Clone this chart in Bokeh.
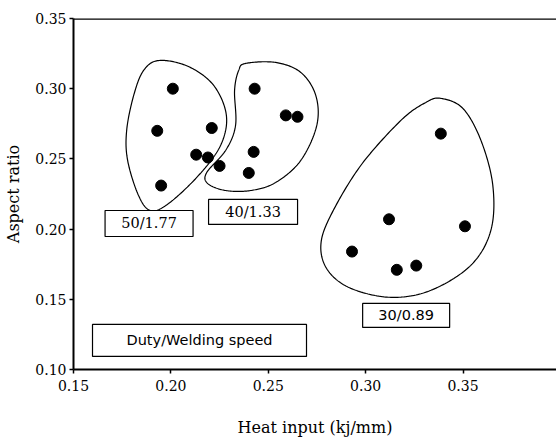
import numpy as np
from bokeh.plotting import figure
from bokeh.models import FixedTicker, Span, Label
from bokeh.embed import file_html
from bokeh.resources import INLINE

# ---- data ----
heat_50 = [0.201, 0.193, 0.221, 0.213, 0.219, 0.225, 0.195]
ratio_50 = [0.300, 0.270, 0.272, 0.253, 0.251, 0.245, 0.231]
heat_40 = [0.243, 0.2425, 0.240, 0.259, 0.265]
ratio_40 = [0.300, 0.255, 0.240, 0.281, 0.280]
heat_30 = [0.3386, 0.312, 0.351, 0.293, 0.316, 0.326]
ratio_30 = [0.268, 0.207, 0.202, 0.184, 0.171, 0.174]
group_labels = ["50/1.77", "40/1.33", "30/0.89"]
x_ticks = [0.15, 0.20, 0.25, 0.30, 0.35]
y_ticks = [0.10, 0.15, 0.20, 0.25, 0.30, 0.35]

# outline control points of the grouping curves (data units)
blob_50_x = [0.194, 0.209, 0.222, 0.2285, 0.2255, 0.2142, 0.1988, 0.1896, 0.1834, 0.1778, 0.1773, 0.1809, 0.186]
blob_50_y = [0.3201, 0.3158, 0.3023, 0.2809, 0.2596, 0.2382, 0.2182, 0.2132, 0.2239, 0.2489, 0.2703, 0.2952, 0.3130]
blob_40_x = [0.2384, 0.2538, 0.2667, 0.2744, 0.2749, 0.2667, 0.2538, 0.2410, 0.2281, 0.2189, 0.2184, 0.2281, 0.2332, 0.2327, 0.2348]
blob_40_y = [0.3180, 0.3187, 0.3116, 0.2952, 0.2738, 0.2489, 0.2332, 0.2275, 0.2275, 0.2325, 0.2403, 0.2560, 0.2738, 0.2987, 0.3130]
blob_30_x = [0.3386, 0.3499, 0.3592, 0.3653, 0.3643, 0.3540, 0.3335, 0.3130, 0.2924, 0.2806, 0.2770, 0.2821, 0.2975, 0.3181, 0.3309]
blob_30_y = [0.2931, 0.2860, 0.2632, 0.2311, 0.1991, 0.1742, 0.1564, 0.1514, 0.1578, 0.1706, 0.1884, 0.2098, 0.2453, 0.2774, 0.2902]


def closed_spline(xs, ys, n=24):
    xs = np.asarray(xs); ys = np.asarray(ys)
    k = len(xs)
    ox, oy = [], []
    for i in range(k):
        p0 = i - 1; p1 = i; p2 = (i + 1) % k; p3 = (i + 2) % k
        t = np.linspace(0, 1, n, endpoint=False)
        for P, out in ((xs, ox), (ys, oy)):
            a, b, c, d = P[p0], P[p1], P[p2], P[p3]
            out.extend(0.5 * ((2 * b) + (-a + c) * t + (2 * a - 5 * b + 4 * c - d) * t ** 2
                              + (-a + 3 * b - 3 * c + d) * t ** 3))
    ox.append(ox[0]); oy.append(oy[0])
    return ox, oy


p = figure(width=556, height=442, frame_width=483, frame_height=351,
           output_backend="svg", toolbar_location=None,
           x_range=(0.15, 0.398), y_range=(0.10, 0.35),
           min_border_left=73, min_border_top=18, min_border_bottom=73, min_border_right=0)
p.outline_line_color = None
p.grid.visible = False
p.background_fill_color = "white"

for ax in (p.xaxis[0], p.yaxis[0]):
    ax.axis_line_width = 2
    ax.axis_line_color = "black"
    ax.major_tick_line_width = 1.5
    ax.major_tick_in = 0
    ax.major_tick_out = 4
    ax.minor_tick_line_color = None
    ax.major_label_text_font = "DejaVu Serif"
    ax.major_label_text_font_size = "14px"
    ax.major_label_text_color = "black"
    ax.axis_label_text_font = "DejaVu Serif"
    ax.axis_label_text_font_size = "16px"
    ax.axis_label_text_font_style = "normal"
    ax.axis_label_text_color = "black"

p.xaxis.ticker = FixedTicker(ticks=x_ticks)
p.yaxis.ticker = FixedTicker(ticks=y_ticks)
p.xaxis.major_label_overrides = {t: f"{t:.2f}" for t in x_ticks}
p.yaxis.major_label_overrides = {t: f"{t:.2f}" for t in y_ticks}
p.xaxis.axis_label = "Heat input (kj/mm)"
p.yaxis.axis_label = "Aspect ratio"
p.xaxis.axis_label_standoff = 24
p.yaxis.axis_label_standoff = 9
p.xaxis.major_label_standoff = 6
p.yaxis.major_label_standoff = 3

p.add_layout(Span(location=0.35, dimension="width", line_color="black", line_width=2.5))

for bx, by in ((blob_50_x, blob_50_y), (blob_40_x, blob_40_y), (blob_30_x, blob_30_y)):
    sx, sy = closed_spline(bx, by)
    p.line(sx, sy, line_color="black", line_width=1.2)

for hx, ry in ((heat_50, ratio_50), (heat_40, ratio_40), (heat_30, ratio_30)):
    p.scatter(hx, ry, size=11, color="black")

# label boxes
box_x = [0.1888, 0.2422, 0.3208, 0.2147]
box_y = [0.204, 0.2122, 0.1385, 0.1207]
box_w = [88, 89, 87, 214]
box_h = [26, 25, 24, 32]
p.rect(x=box_x, y=box_y, width=box_w, height=box_h, width_units="screen", height_units="screen",
       fill_color="white", line_color="black", line_width=1.2)

texts = group_labels + ["Duty/Welding speed"]
fonts = ["DejaVu Serif", "DejaVu Serif", "DejaVu Sans", "DejaVu Sans"]
for t, x, y, f in zip(texts, box_x, box_y, fonts):
    p.add_layout(Label(x=x, y=y, text=t, text_align="center", text_baseline="middle",
                       text_font=f, text_font_size="14.5px", text_color="black"))

open("out.html", "w").write(file_html(p, INLINE))
